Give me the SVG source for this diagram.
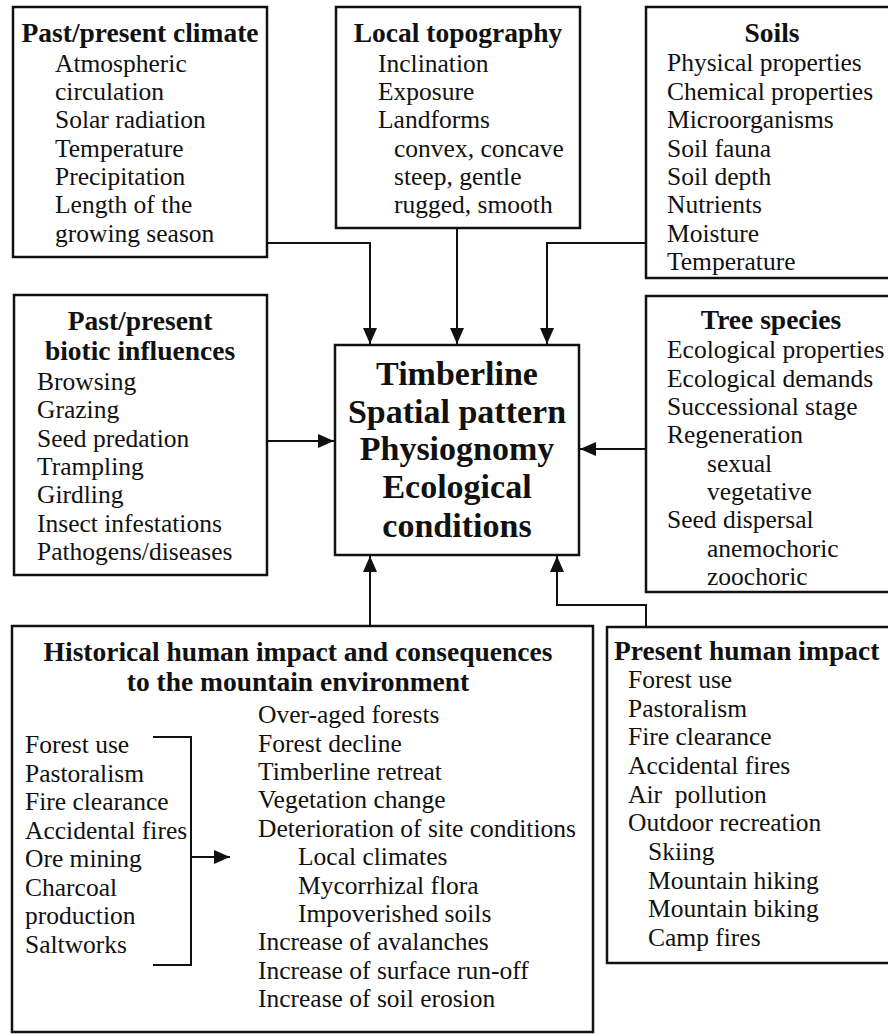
<svg xmlns="http://www.w3.org/2000/svg" width="888" height="1034" viewBox="0 0 888 1034">
<style>
  .box { fill: #fff; stroke: #111; stroke-width: 2.5; }
  .t { font-family: "Liberation Serif", "Times New Roman", serif; font-size: 25.5px; fill: #111; }
  .h { font-family: "Liberation Serif", "Times New Roman", serif; font-size: 27.5px; font-weight: bold; fill: #111; }
  .c { font-family: "Liberation Serif", "Times New Roman", serif; font-size: 34px; font-weight: bold; fill: #111; text-anchor: middle; }
  .m { text-anchor: middle; }
  .pre { white-space: pre; }
  .ln { fill: none; stroke: #111; stroke-width: 2; }
</style>
<defs>
  <marker id="ah" viewBox="0 0 16 14" refX="16" refY="7" markerWidth="16" markerHeight="14" markerUnits="userSpaceOnUse" orient="auto">
    <path d="M0,0 L16,7 L0,14 Z" fill="#111"/>
  </marker>
</defs>
<rect width="888" height="1034" fill="#fff"/>

<g id="connectors">
  <path class="ln" d="M267,243 H370 V344" marker-end="url(#ah)"/>
  <path class="ln" d="M457,228 V344" marker-end="url(#ah)"/>
  <path class="ln" d="M646,243 H547 V344" marker-end="url(#ah)"/>
  <path class="ln" d="M267,441 H334" marker-end="url(#ah)"/>
  <path class="ln" d="M646,449 H580" marker-end="url(#ah)"/>
  <path class="ln" d="M370,626 V556" marker-end="url(#ah)"/>
  <path class="ln" d="M646,627 V605 H557 V556" marker-end="url(#ah)"/>
</g>

<g id="climate">
  <rect class="box" x="13" y="7" width="254" height="250"/>
  <text class="h m" x="140" y="42">Past/present climate</text>
  <text class="t" x="55" y="72">Atmospheric</text>
  <text class="t" x="55" y="100">circulation</text>
  <text class="t" x="55" y="128">Solar radiation</text>
  <text class="t" x="55" y="157">Temperature</text>
  <text class="t" x="55" y="185">Precipitation</text>
  <text class="t" x="55" y="213">Length of the</text>
  <text class="t" x="55" y="242">growing season</text>
</g>

<g id="topography">
  <rect class="box" x="336" y="7" width="244" height="221"/>
  <text class="h m" x="458" y="42">Local topography</text>
  <text class="t" x="378" y="72">Inclination</text>
  <text class="t" x="378" y="100">Exposure</text>
  <text class="t" x="378" y="128">Landforms</text>
  <text class="t" x="394" y="157">convex, concave</text>
  <text class="t" x="394" y="185">steep, gentle</text>
  <text class="t" x="394" y="213">rugged, smooth</text>
</g>

<g id="soils">
  <rect class="box" x="646" y="7" width="260" height="271"/>
  <text class="h m" x="772" y="42">Soils</text>
  <text class="t" x="667" y="71">Physical properties</text>
  <text class="t" x="667" y="100">Chemical properties</text>
  <text class="t" x="667" y="128">Microorganisms</text>
  <text class="t" x="667" y="157">Soil fauna</text>
  <text class="t" x="667" y="185">Soil depth</text>
  <text class="t" x="667" y="213">Nutrients</text>
  <text class="t" x="667" y="242">Moisture</text>
  <text class="t" x="667" y="270">Temperature</text>
</g>

<g id="biotic">
  <rect class="box" x="14" y="295" width="253" height="280"/>
  <text class="h m" x="140" y="330">Past/present</text>
  <text class="h m" x="140" y="360">biotic influences</text>
  <text class="t" x="37" y="390">Browsing</text>
  <text class="t" x="37" y="418">Grazing</text>
  <text class="t" x="37" y="447">Seed predation</text>
  <text class="t" x="37" y="475">Trampling</text>
  <text class="t" x="37" y="503">Girdling</text>
  <text class="t" x="37" y="532">Insect infestations</text>
  <text class="t" x="37" y="560">Pathogens/diseases</text>
</g>

<g id="timberline">
  <rect class="box" x="335" y="345" width="244" height="210"/>
  <text class="c" x="457" y="385">Timberline</text>
  <text class="c" x="457" y="423">Spatial pattern</text>
  <text class="c" x="457" y="460">Physiognomy</text>
  <text class="c" x="457" y="498">Ecological</text>
  <text class="c" x="457" y="537">conditions</text>
</g>

<g id="tree-species">
  <rect class="box" x="646" y="296" width="260" height="296"/>
  <text class="h m" x="771" y="329">Tree species</text>
  <text class="t" x="667" y="358">Ecological properties</text>
  <text class="t" x="667" y="387">Ecological demands</text>
  <text class="t" x="667" y="415">Successional stage</text>
  <text class="t" x="667" y="443">Regeneration</text>
  <text class="t" x="707" y="472">sexual</text>
  <text class="t" x="707" y="500">vegetative</text>
  <text class="t" x="667" y="528">Seed dispersal</text>
  <text class="t" x="707" y="557">anemochoric</text>
  <text class="t" x="707" y="585">zoochoric</text>
</g>

<g id="historical">
  <rect class="box" x="12" y="626" width="581" height="406"/>
  <text class="h m" x="298" y="661">Historical human impact and consequences</text>
  <text class="h m" x="298" y="691">to the mountain environment</text>
  <text class="t" x="25" y="753">Forest use</text>
  <text class="t" x="25" y="782">Pastoralism</text>
  <text class="t" x="25" y="810">Fire clearance</text>
  <text class="t" x="25" y="839">Accidental fires</text>
  <text class="t" x="25" y="867">Ore mining</text>
  <text class="t" x="25" y="896">Charcoal</text>
  <text class="t" x="25" y="924">production</text>
  <text class="t" x="25" y="953">Saltworks</text>
  <path class="ln" d="M153,737 H191 V965 H153"/>
  <path class="ln" d="M191,857 H230" marker-end="url(#ah)"/>
  <text class="t" x="258" y="723">Over-aged forests</text>
  <text class="t" x="258" y="752">Forest decline</text>
  <text class="t" x="258" y="780">Timberline retreat</text>
  <text class="t" x="258" y="808">Vegetation change</text>
  <text class="t" x="258" y="837">Deterioration of site conditions</text>
  <text class="t" x="298" y="865">Local climates</text>
  <text class="t" x="298" y="894">Mycorrhizal flora</text>
  <text class="t" x="298" y="922">Impoverished soils</text>
  <text class="t" x="258" y="950">Increase of avalanches</text>
  <text class="t" x="258" y="979">Increase of surface run-off</text>
  <text class="t" x="258" y="1007">Increase of soil erosion</text>
</g>

<g id="present">
  <rect class="box" x="607" y="627" width="300" height="336"/>
  <text class="h" x="614" y="660">Present human impact</text>
  <text class="t" x="628" y="688">Forest use</text>
  <text class="t" x="628" y="717">Pastoralism</text>
  <text class="t" x="628" y="745">Fire clearance</text>
  <text class="t" x="628" y="774">Accidental fires</text>
  <text class="t pre" x="628" y="803">Air  pollution</text>
  <text class="t" x="628" y="831">Outdoor recreation</text>
  <text class="t" x="648" y="860">Skiing</text>
  <text class="t" x="648" y="889">Mountain hiking</text>
  <text class="t" x="648" y="917">Mountain biking</text>
  <text class="t" x="648" y="946">Camp fires</text>
</g>
</svg>
